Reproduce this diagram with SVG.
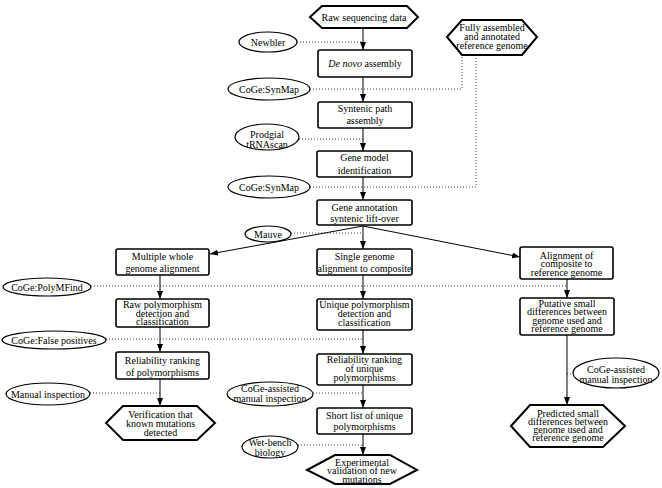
<svg xmlns="http://www.w3.org/2000/svg" width="662" height="488" viewBox="0 0 662 488">
<style>
.box{fill:#fff;stroke:#000;stroke-width:1.6}
.hex{fill:#fff;stroke:#000;stroke-width:2;stroke-linejoin:miter}
.ell{fill:#fff;stroke:#000;stroke-width:1.2}
.dot{fill:none;stroke:#444;stroke-width:1;stroke-dasharray:1 2}
.arr{fill:none;stroke:#000;stroke-width:1;marker-end:url(#ah)}
text{font-family:"Liberation Serif","Times New Roman",serif;font-size:10px;text-anchor:middle;fill:#000}
</style>
<defs>
<marker id="ah" markerUnits="userSpaceOnUse" markerWidth="8" markerHeight="6" refX="8" refY="3" orient="auto">
<path d="M0,0 L8,3 L0,6 z" fill="#000"/>
</marker>
</defs>
<rect width="662" height="488" fill="#fff"/>
<g id="connectors">
<path class="dot" d="M297,42 H363"/>
<path class="dot" d="M310,89 H462 V55"/>
<path class="dot" d="M299,139 H363"/>
<path class="dot" d="M310,187 H476 V55"/>
<path class="dot" d="M291,233 H363"/>
<path class="dot" d="M91,286 H567"/>
<path class="dot" d="M106,339 H363"/>
<path class="dot" d="M90,393 H160"/>
<path class="dot" d="M313,393 H363"/>
<path class="dot" d="M298,445 H363"/>
<path class="dot" d="M567,374 H573"/>
<path class="arr" d="M363,28 V50"/>
<path class="arr" d="M363,77 V102"/>
<path class="arr" d="M363,128 V151"/>
<path class="arr" d="M363,177 V200"/>
<path class="arr" d="M363,226 V249"/>
<path class="arr" d="M363,226 L210,254"/>
<path class="arr" d="M363,226 L520,257"/>
<path class="arr" d="M160,275 V299"/>
<path class="arr" d="M160,327 V352"/>
<path class="arr" d="M160,379 V406"/>
<path class="arr" d="M363,275 V299"/>
<path class="arr" d="M363,330 V354"/>
<path class="arr" d="M363,385 V408"/>
<path class="arr" d="M363,434 V455"/>
<path class="arr" d="M567,279 V298"/>
<path class="arr" d="M567,335 V405"/>
</g>
<g id="raw-data"><polygon class="hex" points="310,17 322,6 407,6 418,17 407,28 322,28"/><text x="364" y="20.5">Raw sequencing data</text></g>
<g id="reference-genome"><polygon class="hex" points="447,37 462,20 522,20 537,37 522,55 462,55"/><text x="492" y="31">Fully assembled</text><text x="492" y="40">and annotated</text><text x="492" y="49">reference genome</text></g>
<g id="newbler"><ellipse class="ell" cx="268" cy="42" rx="29" ry="10"/><text x="268" y="45.5">Newbler</text></g>
<g id="de-novo"><rect class="box" x="318" y="50" width="94" height="27" rx="2"/><text x="365" y="67"><tspan font-style="italic">De novo</tspan> assembly</text></g>
<g id="synmap1"><ellipse class="ell" cx="269" cy="89" rx="41" ry="11"/><text x="269" y="92.5">CoGe:SynMap</text></g>
<g id="syntenic"><rect class="box" x="318" y="102" width="94" height="26" rx="2"/><text x="365" y="112">Syntenic path</text><text x="365" y="124">assembly</text></g>
<g id="prodgial"><ellipse class="ell" cx="267" cy="137" rx="32" ry="13"/><text x="267" y="138">Prodgial</text><text x="267" y="148">tRNAscan</text></g>
<g id="gene-model"><rect class="box" x="317" y="151" width="95" height="26" rx="2"/><text x="364.5" y="161">Gene model</text><text x="364.5" y="173.5">identification</text></g>
<g id="synmap2"><ellipse class="ell" cx="269" cy="187" rx="41" ry="11"/><text x="269" y="190.5">CoGe:SynMap</text></g>
<g id="gene-annotation"><rect class="box" x="317" y="200" width="95" height="25" rx="2"/><text x="364.5" y="210.5">Gene annotation</text><text x="364.5" y="222">syntenic lift-over</text></g>
<g id="mauve"><ellipse class="ell" cx="268" cy="234" rx="23" ry="8"/><text x="268" y="237.5">Mauve</text></g>
<g id="multiple"><rect class="box" x="116" y="249" width="93" height="26" rx="2"/><text x="162.5" y="260">Multiple whole</text><text x="162.5" y="272">genome alignment</text></g>
<g id="single"><rect class="box" x="317" y="249" width="95" height="26" rx="2"/><text x="364.5" y="260">Single genome</text><text x="364.5" y="272">alignment to composite</text></g>
<g id="alignment-composite"><rect class="box" x="520" y="247" width="93" height="32" rx="2"/><text x="566.5" y="258.5">Alignment of</text><text x="566.5" y="267">composite to</text><text x="566.5" y="275.5">reference genome</text></g>
<g id="polymfind"><ellipse class="ell" cx="47" cy="287" rx="44" ry="9"/><text x="47" y="290.5">CoGe:PolyMFind</text></g>
<g id="raw-poly"><rect class="box" x="116" y="299" width="93" height="28" rx="2"/><text x="162.5" y="308">Raw polymorphism</text><text x="162.5" y="316.5">detection and</text><text x="162.5" y="325">classification</text></g>
<g id="unique-poly"><rect class="box" x="317" y="299" width="95" height="31" rx="2"/><text x="364.5" y="308">Unique polymorphism</text><text x="364.5" y="317">detection and</text><text x="364.5" y="326">classification</text></g>
<g id="putative"><rect class="box" x="520" y="298" width="94" height="37" rx="2"/><text x="567" y="306.5">Putative small</text><text x="567" y="315">differences between</text><text x="567" y="323.5">genome used and</text><text x="567" y="332">reference genome</text></g>
<g id="false-positives"><ellipse class="ell" cx="54" cy="340" rx="52" ry="9"/><text x="54" y="343.5">CoGe:False positives</text></g>
<g id="reliability-left"><rect class="box" x="116" y="352" width="93" height="27" rx="2"/><text x="162.5" y="363.5">Reliability ranking</text><text x="162.5" y="375.5">of polymorphisms</text></g>
<g id="reliability-center"><rect class="box" x="317" y="354" width="95" height="31" rx="2"/><text x="364.5" y="362.5">Reliability ranking</text><text x="364.5" y="371.5">of unique</text><text x="364.5" y="380.5">polymorphisms</text></g>
<g id="coge-assisted-right"><ellipse class="ell" cx="616" cy="373" rx="43" ry="15"/><text x="616" y="372.5">CoGe-assisted</text><text x="616" y="382.5">manual inspection</text></g>
<g id="manual"><ellipse class="ell" cx="48" cy="394" rx="42" ry="11"/><text x="48" y="397.5">Manual inspection</text></g>
<g id="coge-assisted-center"><ellipse class="ell" cx="270" cy="394" rx="43" ry="12"/><text x="270" y="391.5">CoGe-assisted</text><text x="270" y="401.5">manual inspection</text></g>
<g id="short-list"><rect class="box" x="317" y="408" width="95" height="26" rx="2"/><text x="364.5" y="419">Short list of unique</text><text x="364.5" y="430">polymorphisms</text></g>
<g id="verification"><polygon class="hex" points="106,423 123,406 197,406 215,423 197,440 123,440"/><text x="160.5" y="417.5">Verification that</text><text x="160.5" y="426.5">known mutations</text><text x="160.5" y="435.5">detected</text></g>
<g id="predicted"><polygon class="hex" points="511,426 530,405 603,405 625,426 603,447 530,447"/><text x="568" y="416.5">Predicted small</text><text x="568" y="424.5">differences between</text><text x="568" y="432.5">genome used and</text><text x="568" y="441">reference genome</text></g>
<g id="wet-bench"><ellipse class="ell" cx="270" cy="447" rx="28" ry="11"/><text x="270" y="446">Wet-bench</text><text x="270" y="455.5">biology</text></g>
<g id="experimental"><polygon class="hex" points="307,470 335,455 390,455 417,470 390,484 335,484"/><text x="362" y="465.5">Experimental</text><text x="362" y="474">validation of new</text><text x="362" y="482.5">mutations</text></g>
</svg>
